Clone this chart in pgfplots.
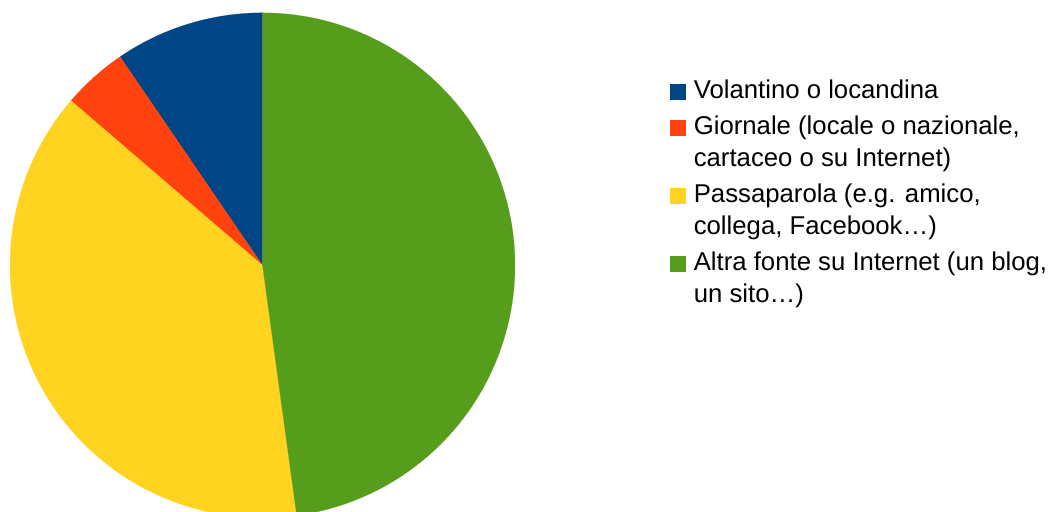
\documentclass[border=0pt]{standalone}
\usepackage{fontspec}
\setmainfont{Liberation Sans}
\usepackage{pgfplots}
\pgfplotsset{compat=1.18}

\definecolor{cBlue}{HTML}{004586}
\definecolor{cRed}{HTML}{FF420E}
\definecolor{cYellow}{HTML}{FFD320}
\definecolor{cGreen}{HTML}{579D1C}

% shares (percent), LibreOffice order: counter-clockwise from 12 o'clock
\def\vA{9.54}  % Volantino o locandina
\def\vB{4.16}  % Giornale
\def\vC{38.46} % Passaparola
\def\vD{47.84} % Altra fonte su Internet

\pgfmathsetmacro{\aO}{90}
\pgfmathsetmacro{\aA}{\aO+3.6*\vA}
\pgfmathsetmacro{\aB}{\aA+3.6*\vB}
\pgfmathsetmacro{\aC}{\aB+3.6*\vC}
\pgfmathsetmacro{\aD}{\aC+3.6*\vD}

\def\cx{262.5}
\def\cy{245.7}
\def\rr{252.5}

\newcommand{\ls}{\rule{0pt}{22.4pt}}% continuation-line strut
\newcommand{\fs}{\rule{0pt}{25.6pt}}% first-line strut (extra gap above)

\begin{document}
\begin{tikzpicture}
\begin{axis}[
  width=790.5pt, height=383.25pt, scale only axis,
  xmin=0, xmax=1054, ymin=0, ymax=511,
  hide axis,
  clip=true,
  clip bounding box=upper bound,
  legend cell align=left,
  legend image code/.code={\fill[#1] (0pt,0pt) rectangle (11.25pt,11.25pt);},
  legend style={
    draw=none, fill=none, inner sep=0pt, outer sep=0pt,
    at={(axis cs:670,442)}, anchor=north west,
    font=\fontsize{19.3pt}{23.8pt}\selectfont,
    row sep=0pt, column sep=6.5pt,
    nodes={inner sep=0pt},
    cells={anchor=base west},
  },
]
\addplot[fill=cBlue, draw=cBlue, line width=0.1pt, domain=\aO:\aA, samples=60, variable=\t]
  ({\cx+\rr*cos(\t)}, {\cy+\rr*sin(\t)}) -- (axis cs:\cx,\cy) -- cycle;
\addlegendentry{\ls Volantino o locandina}
\addplot[fill=cRed, draw=cRed, line width=0.1pt, domain=\aA:\aB, samples=40, variable=\t]
  ({\cx+\rr*cos(\t)}, {\cy+\rr*sin(\t)}) -- (axis cs:\cx,\cy) -- cycle;
\addlegendentry{\fs Giornale (locale o nazionale,}
\addlegendimage{empty legend}
\addlegendentry{\ls cartaceo o su Internet)}
\addplot[fill=cYellow, draw=cYellow, line width=0.1pt, domain=\aB:\aC, samples=150, variable=\t]
  ({\cx+\rr*cos(\t)}, {\cy+\rr*sin(\t)}) -- (axis cs:\cx,\cy) -- cycle;
\addlegendentry{\fs Passaparola (e.g. amico,}
\addlegendimage{empty legend}
\addlegendentry{\ls collega, Facebook…)}
\addplot[fill=cGreen, draw=cGreen, line width=0.1pt, domain=\aC:\aD, samples=180, variable=\t]
  ({\cx+\rr*cos(\t)}, {\cy+\rr*sin(\t)}) -- (axis cs:\cx,\cy) -- cycle;
\addlegendentry{\fs Altra fonte su Internet (un blog,}
\addlegendimage{empty legend}
\addlegendentry{\ls un sito…)}
\end{axis}
\pgfresetboundingbox
\path (current axis.south west) rectangle (current axis.north east);
\end{tikzpicture}
\end{document}
